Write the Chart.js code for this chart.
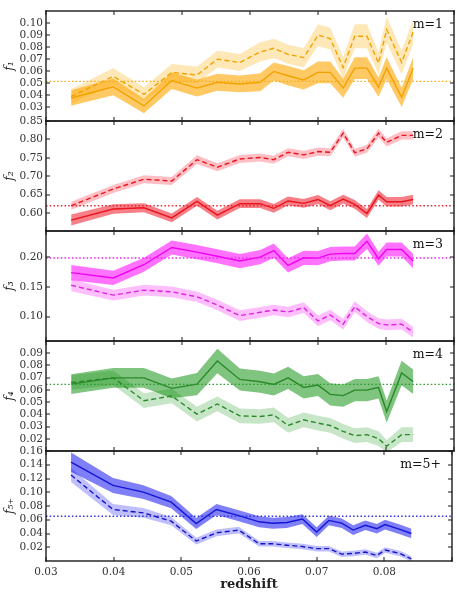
<!DOCTYPE html>
<html><head><meta charset="utf-8">
<script src="https://cdn.jsdelivr.net/npm/chart.js@4/dist/chart.umd.min.js"></script>
<style>
html,body{margin:0;padding:0;background:#fff;width:457px;height:595px;overflow:hidden}
#wrap{position:relative;width:457px;height:595px}
canvas{position:absolute;left:0}
</style></head>
<body><div id="wrap"></div>
<script>
// ---- data ----
const redshift = [0.0337,0.0399,0.0444,0.0485,0.0522,0.0552,0.0585,0.0615,0.0635,0.0656,0.0679,0.0700,0.0718,0.0737,0.0754,0.0772,0.0789,0.0801,0.0823,0.0840];
const xTicks = [0.03,0.04,0.05,0.06,0.07,0.08,0.09];

const f1Solid     = [0.0377,0.047,0.0311,0.0522,0.0459,0.0508,0.0494,0.0508,0.0598,0.0562,0.0527,0.059,0.059,0.0459,0.0625,0.0625,0.0467,0.0625,0.0382,0.0625];
const f1SolidErr  = [0.0065,0.007,0.006,0.007,0.007,0.007,0.007,0.0075,0.0075,0.008,0.008,0.009,0.009,0.008,0.009,0.009,0.008,0.009,0.008,0.009];
const f1Dashed    = [0.039,0.0557,0.0407,0.059,0.0568,0.070,0.0672,0.076,0.079,0.074,0.0713,0.090,0.087,0.063,0.089,0.089,0.0667,0.0945,0.0672,0.0926];
const f1DashedErr = [0.006,0.007,0.006,0.007,0.007,0.007,0.007,0.008,0.008,0.008,0.008,0.009,0.009,0.009,0.01,0.01,0.009,0.011,0.01,0.01];
const f1Level = 0.0515;
const f1Ticks = [0.03,0.04,0.05,0.06,0.07,0.08,0.09,0.10];

const f2Solid     = [0.581,0.611,0.6145,0.587,0.632,0.5945,0.6255,0.6255,0.613,0.633,0.6264,0.637,0.62,0.638,0.6236,0.599,0.649,0.631,0.631,0.637];
const f2SolidErr  = [0.015,0.013,0.012,0.012,0.012,0.012,0.012,0.012,0.012,0.012,0.012,0.012,0.012,0.012,0.012,0.012,0.013,0.013,0.013,0.013];
const f2Dashed    = [0.62,0.6655,0.692,0.687,0.745,0.7245,0.747,0.751,0.745,0.765,0.758,0.767,0.765,0.817,0.764,0.7745,0.817,0.792,0.811,0.811];
const f2DashedErr = [0.011,0.011,0.011,0.011,0.012,0.011,0.011,0.011,0.011,0.011,0.011,0.011,0.011,0.012,0.011,0.011,0.012,0.011,0.011,0.011];
const f2Level = 0.62;
const f2Ticks = [0.60,0.65,0.70,0.75,0.80,0.85];

const f3Solid     = [0.1743,0.1654,0.1877,0.2168,0.209,0.202,0.1939,0.2006,0.2117,0.1866,0.1994,0.1989,0.2056,0.2067,0.2067,0.2274,0.1978,0.2134,0.2134,0.1939];
const f3SolidErr  = [0.013,0.012,0.012,0.012,0.012,0.012,0.012,0.012,0.012,0.012,0.012,0.012,0.012,0.012,0.012,0.013,0.012,0.012,0.012,0.012];
const f3Dashed    = [0.153,0.1363,0.1447,0.1419,0.1335,0.1196,0.1017,0.1073,0.1112,0.1078,0.1151,0.0927,0.1028,0.0872,0.1168,0.100,0.0883,0.086,0.0872,0.0737];
const f3DashedErr = [0.01,0.009,0.009,0.009,0.009,0.009,0.009,0.009,0.009,0.009,0.009,0.009,0.009,0.009,0.009,0.009,0.009,0.009,0.009,0.009];
const f3Level = 0.199;
const f3Ticks = [0.10,0.15,0.20];

const f4Solid     = [0.0647,0.0698,0.0698,0.0612,0.0647,0.0835,0.0685,0.0666,0.0644,0.0698,0.062,0.0639,0.0563,0.0553,0.0598,0.0598,0.062,0.0423,0.0738,0.0666];
const f4SolidErr  = [0.008,0.008,0.008,0.008,0.009,0.01,0.009,0.009,0.009,0.009,0.009,0.009,0.009,0.009,0.009,0.009,0.009,0.009,0.01,0.01];
const f4Dashed    = [0.066,0.0698,0.0512,0.055,0.0402,0.0485,0.0388,0.0383,0.0396,0.031,0.0356,0.0329,0.031,0.0262,0.0227,0.0235,0.0203,0.0141,0.0235,0.0235];
const f4DashedErr = [0.006,0.006,0.006,0.006,0.006,0.006,0.006,0.006,0.006,0.006,0.006,0.006,0.006,0.006,0.006,0.006,0.006,0.005,0.006,0.006];
const f4Level = 0.0645;
const f4Ticks = [0.02,0.03,0.04,0.05,0.06,0.07,0.08,0.09];

const f5Solid     = [0.1439,0.1099,0.1002,0.0856,0.0545,0.0749,0.066,0.057,0.055,0.056,0.061,0.042,0.059,0.055,0.045,0.052,0.047,0.053,0.046,0.040];
const f5SolidErr  = [0.014,0.011,0.01,0.009,0.008,0.008,0.008,0.008,0.008,0.008,0.007,0.007,0.007,0.007,0.007,0.007,0.007,0.007,0.007,0.007];
const f5Dashed    = [0.125,0.075,0.070,0.058,0.029,0.041,0.045,0.025,0.025,0.023,0.021,0.018,0.018,0.010,0.011,0.013,0.008,0.016,0.011,0.003];
const f5DashedErr = [0.01,0.008,0.007,0.006,0.005,0.005,0.005,0.004,0.004,0.004,0.004,0.004,0.004,0.004,0.004,0.004,0.004,0.004,0.004,0.004];
const f5Level = 0.065;
const f5Ticks = [0.02,0.04,0.06,0.08,0.10,0.12,0.14,0.16];

// ---- panels ----
const panels = [
  {label:'m=1', title:'f\u2081', solid:f1Solid, solidErr:f1SolidErr, dashed:f1Dashed, dashedErr:f1DashedErr, level:f1Level, ticks:f1Ticks, min:0.0186, max:0.11,
   c:{line:'#f2a200', dash:'#f2a200', band:'rgba(255,165,0,0.6)', band2:'rgba(255,172,0,0.28)', dot:'#f5aa10'}},
  {label:'m=2', title:'f\u2082', solid:f2Solid, solidErr:f2SolidErr, dashed:f2Dashed, dashedErr:f2DashedErr, level:f2Level, ticks:f2Ticks, min:0.5514, max:0.85,
   c:{line:'#e8141e', dash:'#e8141e', band:'rgba(240,0,15,0.5)', band2:'rgba(255,0,25,0.25)', dot:'#e8242e'}},
  {label:'m=3', title:'f\u2083', solid:f3Solid, solidErr:f3SolidErr, dashed:f3Dashed, dashedErr:f3DashedErr, level:f3Level, ticks:f3Ticks, min:0.0588, max:0.2447,
   c:{line:'#f000f0', dash:'#e020e0', band:'rgba(255,0,255,0.55)', band2:'rgba(255,0,255,0.25)', dot:'#f020f0'}},
  {label:'m=4', title:'f\u2084', solid:f4Solid, solidErr:f4SolidErr, dashed:f4Dashed, dashedErr:f4DashedErr, level:f4Level, ticks:f4Ticks, min:0.0102, max:0.0998,
   c:{line:'#2a8a2a', dash:'#2a8a2a', band:'rgba(0,137,0,0.5)', band2:'rgba(0,139,0,0.22)', dot:'#2a9a2a'}},
  {label:'m=5+', title:'f\u2085\u208A', solid:f5Solid, solidErr:f5SolidErr, dashed:f5Dashed, dashedErr:f5DashedErr, level:f5Level, ticks:f5Ticks, min:0, max:0.16,
   c:{line:'#1515d5', dash:'#1515c5', band:'rgba(0,0,240,0.5)', band2:'rgba(0,0,255,0.25)', dot:'#3030e0'}}
];

const PAD = 12, PH = 110, TOPS = [11,121,231,341,451];
const SERIF = 'DejaVu Serif';

function makeDecor(label, yticks) {
  return {
    id:'decor',
    afterDraw(chart){
      const ctx = chart.ctx, a = chart.chartArea, x = chart.scales.x, y = chart.scales.y;
      ctx.save();
      ctx.setLineDash([]);
      ctx.globalAlpha = 1;
      ctx.fillStyle = '#1a1a1a';
      const L = Math.round(a.left), R = Math.round(a.right), T = Math.round(a.top), B = Math.round(a.bottom);
      const w = 1.4;
      ctx.fillRect(L - w/2, T - w/2, R - L + w, w);
      ctx.fillRect(L - w/2, B - w/2, R - L + w, w);
      ctx.fillRect(L - w/2, T - w/2, w, B - T + w);
      ctx.fillRect(R - w/2, T - w/2, w, B - T + w);
      xTicks.forEach(v=>{
        const px = Math.round(x.getPixelForValue(v));
        ctx.fillRect(px - 0.5, T, 1, 4);
        ctx.fillRect(px - 0.5, B - 4, 1, 4);
      });
      yticks.forEach(v=>{
        const py = Math.round(y.getPixelForValue(v));
        ctx.fillRect(L, py - 0.5, 4, 1);
        ctx.fillRect(R - 4, py - 0.5, 4, 1);
      });
      ctx.fillStyle = '#111';
      ctx.font = '12.5px "' + SERIF + '"';
      ctx.textAlign = 'right'; ctx.textBaseline = 'middle';
      ctx.fillText(label, R - 11, T + 14);
      ctx.restore();
    }
  };
}

const wrap = document.getElementById('wrap');
panels.forEach((p, i) => {
  const last = i === panels.length - 1;
  const cv = document.createElement('canvas');
  const top = TOPS[i] - PAD;
  const h = last ? 595 - top : PH + 2*PAD;
  cv.width = 457; cv.height = h;
  cv.style.top = top + 'px'; cv.style.width = '457px'; cv.style.height = h + 'px';
  wrap.appendChild(cv);

  const pts = ys => redshift.map((x, k) => ({x, y: ys[k]}));
  const band = (ys, es, s) => redshift.map((x, k) => ({x, y: ys[k] + s*es[k]}));
  const none = 'rgba(0,0,0,0)';

  new Chart(cv, {
    type:'line',
    data:{ datasets:[
      {data:[{x:xTicks[0], y:p.level},{x:xTicks[xTicks.length-1], y:p.level}], borderColor:p.c.dot, borderWidth:1.4, borderDash:[1.5,2.2], pointRadius:0, fill:false, clip:0},
      {data:pts(p.solid), borderColor:p.c.line, borderWidth:1.4, pointRadius:0, fill:false, clip:0},
      {data:pts(p.dashed), borderColor:p.c.dash, borderWidth:1.4, borderDash:[5,3], pointRadius:0, fill:false, clip:0},
      {data:band(p.solid, p.solidErr, 1), borderColor:none, borderWidth:0, pointRadius:0, fill:4, backgroundColor:p.c.band, clip:0},
      {data:band(p.solid, p.solidErr, -1), borderColor:none, borderWidth:0, pointRadius:0, fill:false, clip:0},
      {data:band(p.dashed, p.dashedErr, 1), borderColor:none, borderWidth:0, pointRadius:0, fill:6, backgroundColor:p.c.band2, clip:0},
      {data:band(p.dashed, p.dashedErr, -1), borderColor:none, borderWidth:0, pointRadius:0, fill:false, clip:0}
    ]},
    options:{
      responsive:false, maintainAspectRatio:false, animation:false, devicePixelRatio:1,
      events:[],
      layout:{padding:{top:PAD, bottom: last ? 0 : PAD, left:0, right:3}},
      elements:{line:{tension:0}},
      plugins:{legend:{display:false}, tooltip:{enabled:false}},
      scales:{
        x:{type:'linear', min:xTicks[0], max:xTicks[xTicks.length-1], display:last,
           grid:{display:false, drawTicks:false}, border:{display:false},
           afterBuildTicks: s => { s.ticks = xTicks.map(v => ({value:v})); },
           afterFit: s => { s.height = last ? 34 : 0; },
           ticks:{autoSkip:false, maxRotation:0, padding:5, color:'#333', font:{family:SERIF, size:10.5},
                  callback: (v) => v > 0.085 ? '' : Number(v).toFixed(2)},
           title:{display:true, text:'redshift', color:'#222', font:{family:SERIF, size:13, weight:'bold'}, padding:{top:0, bottom:3}}
        },
        y:{type:'linear', min:p.min, max:p.max,
           grid:{display:false, drawTicks:false}, border:{display:false},
           afterBuildTicks: s => { s.ticks = p.ticks.map(v => ({value:v})); },
           afterFit: s => { s.width = 46; },
           ticks:{autoSkip:false, padding:3, color:'#333', font:{family:SERIF, size:10.5},
                  callback: v => Number(v).toFixed(2)},
           title:{display:true, text:p.title, color:'#222', font:{family:SERIF, size:12.5, style:'italic'}, padding:{top:2, bottom:0}}
        }
      }
    },
    plugins:[makeDecor(p.label, p.ticks)]
  });
});
</script>
</body></html>
